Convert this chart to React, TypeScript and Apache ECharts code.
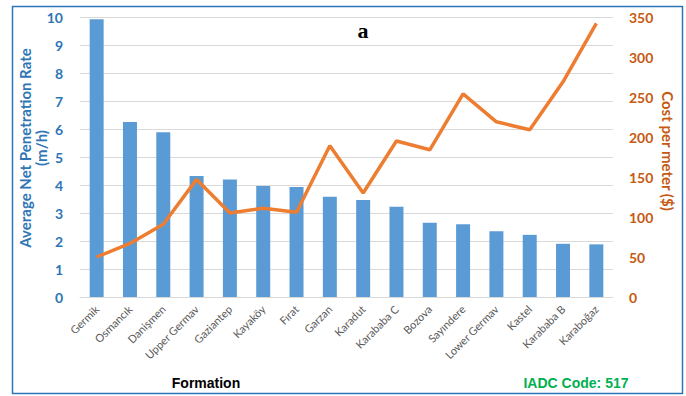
import React, { useEffect, useRef } from "react";
import * as echarts from "echarts";

const categories = ["Germik", "Osmancık", "Danişmen", "Upper Germav", "Gaziantep", "Kayaköy", "Fırat", "Garzan", "Karadut", "Karababa C", "Bozova", "Sayındere", "Lower Germav", "Kastel", "Karababa B", "Karaboğaz"];
const penetrationRate = [9.92, 6.25, 5.88, 4.32, 4.2, 3.96, 3.93, 3.58, 3.46, 3.22, 2.65, 2.6, 2.35, 2.22, 1.9, 1.88];
const costPerMeter = [50, 67, 91, 147, 105, 111, 106, 189, 130, 195, 184, 254, 219, 209, 269, 342];

export default function App() {
  const ref = useRef<HTMLDivElement>(null);
  useEffect(() => {
    const chart = echarts.init(ref.current!, null, { renderer: "svg" });
    chart.setOption({
      animation: false,
      backgroundColor: "#ffffff",
      grid: { left: 80, right: 73, top: 17, bottom: 99 },
      xAxis: {
        type: "category",
        data: categories,
        axisLine: { lineStyle: { color: "#d9d9d9" } },
        axisTick: { show: false },
        axisLabel: { rotate: 45, fontSize: 11, color: "#595959", fontFamily: "Lato", margin: 10, interval: 0 },
      },
      yAxis: [
        {
          type: "value",
          min: 0,
          max: 10,
          interval: 1,
          axisLine: { show: false },
          axisTick: { show: false },
          splitLine: { lineStyle: { color: "#d9d9d9" } },
          axisLabel: { color: "#2E75B6", fontWeight: "bold", fontSize: 14, fontFamily: "Lato", margin: 17 },
        },
        {
          type: "value",
          min: 0,
          max: 350,
          interval: 50,
          position: "right",
          axisLine: { show: false },
          axisTick: { show: false },
          splitLine: { show: false },
          axisLabel: { color: "#C55A11", fontWeight: "bold", fontSize: 14, fontFamily: "Lato", margin: 16 },
        },
      ],
      series: [
        {
          type: "bar",
          data: penetrationRate,
          barWidth: "42%",
          itemStyle: { color: "#5B9BD5" },
        },
        {
          type: "line",
          yAxisIndex: 1,
          data: costPerMeter,
          symbol: "none",
          lineStyle: { color: "#ED7D31", width: 3.5 },
        },
      ],
      graphic: [
        {
          type: "rect",
          shape: { x: 12.5, y: 6.5, width: 670, height: 387 },
          style: { fill: "none", stroke: "#2E75B6", lineWidth: 1.5 },
          z: 100,
        },
        {
          type: "text",
          x: 33,
          y: 148,
          rotation: Math.PI / 2,
          style: {
            text: "Average Net Penetration Rate\n(m/h)",
            align: "center",
            verticalAlign: "middle",
            fill: "#2E75B6",
            font: "bold 15px Lato",
            lineHeight: 16,
          },
        },
        {
          type: "text",
          x: 668,
          y: 151,
          rotation: -Math.PI / 2,
          style: {
            text: "Cost per meter ($)",
            align: "center",
            verticalAlign: "middle",
            fill: "#C55A11",
            font: "bold 15px Lato",
          },
        },
        {
          type: "text",
          x: 206,
          y: 383,
          style: {
            text: "Formation",
            align: "center",
            verticalAlign: "middle",
            fill: "#000000",
            font: "bold 14px 'Liberation Sans'",
          },
        },
        {
          type: "text",
          x: 576,
          y: 383,
          style: {
            text: "IADC Code: 517",
            align: "center",
            verticalAlign: "middle",
            fill: "#00B050",
            font: "bold 14px 'Liberation Sans'",
          },
        },
        {
          type: "text",
          x: 363,
          y: 30,
          style: {
            text: "a",
            align: "center",
            verticalAlign: "middle",
            fill: "#000000",
            font: "bold 22px 'Liberation Serif'",
          },
        },
      ],
    });
    return () => chart.dispose();
  }, []);
  return <div ref={ref} style={{ position: "fixed", left: 0, top: 0, width: 686, height: 396 }} />;
}
